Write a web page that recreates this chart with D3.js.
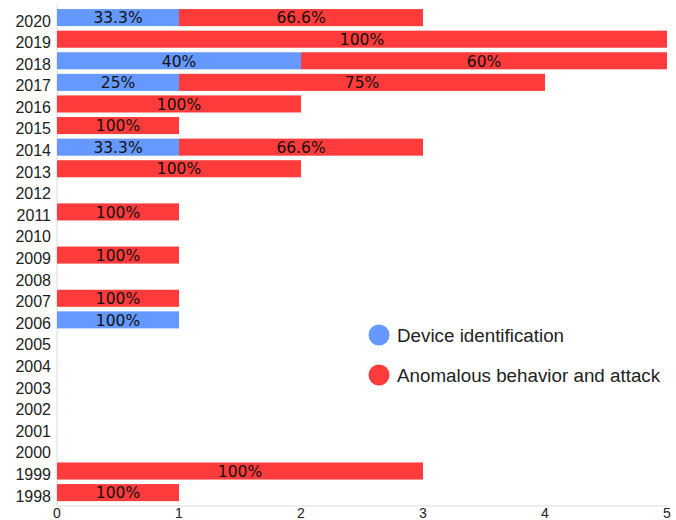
<!DOCTYPE html>
<html>
<head>
<meta charset="utf-8">
<script src="https://cdn.jsdelivr.net/npm/d3@7"></script>
<style>
body{margin:0;background:#fff;}
svg{display:block;}
</style>
</head>
<body>
<svg id="chart" width="676" height="520"></svg>
<script>
const years = ["1998","1999","2000","2001","2002","2003","2004","2005","2006","2007","2008","2009","2010","2011","2012","2013","2014","2015","2016","2017","2018","2019","2020"];
const deviceIdentification = [0,0,0,0,0,0,0,0,1,0,0,0,0,0,0,0,1,0,0,1,2,0,1];
const anomalousBehavior   = [1,3,0,0,0,0,0,0,0,1,0,1,0,1,0,2,2,1,2,3,3,5,2];
const seriesNames = ["Device identification","Anomalous behavior and attack"];
const seriesColors = ["#6699ff","#ff3b3b"];
const xTicks = [0,1,2,3,4,5];

const svg = d3.select("#chart");
const x = d3.scaleLinear().domain([0,5]).range([57,667]);
const y = d3.scaleBand().domain(years.slice().reverse()).range([6.8,503.4]).paddingInner(0.21).paddingOuter(0.105);

const rows = years.map((yr,i)=>({year:yr, v:[deviceIdentification[i], anomalousBehavior[i]]}));

// axis lines
svg.append("line").attr("x1",57).attr("x2",57).attr("y1",5).attr("y2",506).attr("stroke","#dddddd").attr("stroke-width",1);
svg.append("line").attr("x1",57).attr("x2",667).attr("y1",506).attr("y2",506).attr("stroke","#dddddd").attr("stroke-width",1);

const fmt = p => (Math.floor(p*1000+1e-9)/10) + "%";

rows.forEach(r=>{
  const total = r.v[0]+r.v[1];
  let acc = 0;
  r.v.forEach((val,si)=>{
    if(val<=0) return;
    const x0 = x(acc), x1 = x(acc+val);
    svg.append("rect").attr("x",x0).attr("y",y(r.year)).attr("width",x1-x0).attr("height",y.bandwidth()).attr("fill",seriesColors[si]);
    svg.append("text").attr("x",(x0+x1)/2).attr("y",y(r.year)+y.bandwidth()/2).attr("dy","0.37em")
      .attr("text-anchor","middle").attr("font-family","DejaVu Sans").attr("font-size",15.5).attr("fill","#111")
      .text(fmt(val/total));
    acc += val;
  });
});

// year labels
svg.selectAll(".yl").data(years).enter().append("text")
  .attr("x",51).attr("y",d=>y(d)+y.bandwidth()/2+3).attr("dy","0.37em").attr("text-anchor","end")
  .attr("font-family","Liberation Sans").attr("font-size",16).attr("fill","#222").text(d=>d);

// x tick labels
svg.selectAll(".xl").data(xTicks).enter().append("text")
  .attr("x",d=>x(d)).attr("y",518).attr("text-anchor","middle")
  .attr("font-family","Liberation Sans").attr("font-size",14).attr("fill","#222").text(d=>d);

// legend
seriesNames.forEach((n,i)=>{
  const cy = 335 + i*40;
  svg.append("circle").attr("cx",379).attr("cy",cy).attr("r",10.5).attr("fill",seriesColors[i]);
  svg.append("text").attr("x",397).attr("y",cy).attr("dy","0.36em").attr("font-family","Liberation Sans")
    .attr("font-size",18.8).attr("fill","#222").text(n);
});
</script>
</body>
</html>
